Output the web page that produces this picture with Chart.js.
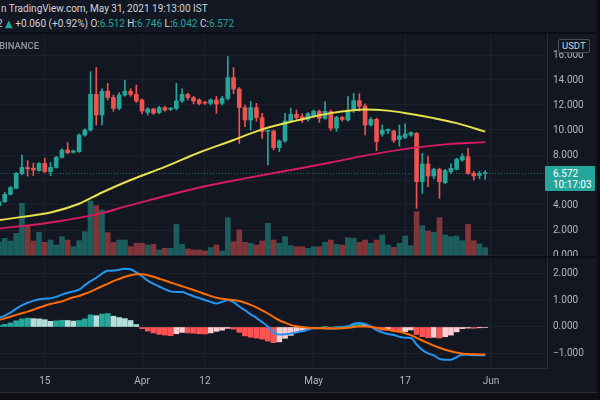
<!DOCTYPE html>
<html>
<head>
<meta charset="utf-8">
<title>Daily chart with MACD</title>
<script src="https://cdn.jsdelivr.net/npm/chart.js@4.4.1/dist/chart.umd.min.js"></script>
<style>
  html, body { margin: 0; padding: 0; }
  body {
    width: 600px; height: 400px; position: relative; overflow: hidden;
    background: #131722; color: #d1d4dc;
    font-family: Roboto, "Noto Sans", "DejaVu Sans", sans-serif; font-size: 10px;
  }
  .abs { position: absolute; white-space: nowrap; }
  .up { color: #26a69a; }
  canvas { position: absolute; left: 0; }
</style>
</head>
<body>
  <div class="abs" style="left:1px; top:2px; line-height:13px;">n TradingView.com, May 31, 2021 19:13:00 IST</div>
  <div class="abs" id="ohlc" style="left:-3px; top:17px; line-height:13px;"></div>
  <div class="abs" style="left:0; top:32px; width:600px; height:2px; background:#0b0d12;"></div>

  <canvas id="priceChart" width="600" height="222" style="top:34px;"></canvas>
  <div class="abs" style="left:0; top:256px; width:600px; height:2px; background:#0b0d12;"></div>
  <canvas id="macdChart" width="600" height="134" style="top:258px;"></canvas>

  <div class="abs" style="left:0; top:392px; width:600px; height:8px; background:#0c0e13; border-top:1px solid #2a2e39;"></div>
  <div class="abs" style="left:597px; top:0; width:3px; height:400px; background:#0c0e13;"></div>

  <div class="abs" style="left:-1px; top:40px; font-size:9.5px; font-weight:500; color:#9598a1;">BINANCE</div>
  <div class="abs" style="left:558px; top:39px; padding:0 3px; line-height:12px; font-size:9.5px; border:1px solid #4a4e59; border-radius:2px; background:#131722;">USDT</div>
  <div class="abs" id="lastPrice" style="left:545px; width:50px; height:25px; box-sizing:border-box; padding:2px 0 0 8px; line-height:11px; background:#26a69a; color:#fff; border-radius:1px;">
    <div id="lastClose"></div><div>10:17:03</div>
  </div>

<script>
// first candle is Mar 7, days counted from Mar 1
const startDay = 6;

const opens = [
  3.95, 4.27, 4.85, 5.33, 6.51, 7.00, 6.95, 6.75, 7.33, 6.67,
  7.01, 7.81, 8.40, 8.22, 8.27, 9.60, 10.00, 12.85, 11.20, 13.10,
  12.60, 11.73, 12.80, 13.10, 12.85, 12.40, 11.41, 11.68, 11.39, 11.79,
  11.65, 11.73, 12.32, 12.85, 12.59, 12.40, 12.22, 12.13, 12.40, 12.13,
  12.53, 14.19, 13.28, 11.79, 10.80, 11.79, 10.99, 9.90, 9.92, 8.59,
  9.12, 10.72, 11.25, 11.07, 10.85, 11.10, 11.50, 10.93, 11.47, 10.15,
  11.00, 10.80, 11.55, 12.35, 11.92, 10.40, 10.85, 9.68, 9.95, 9.92,
  9.25, 9.41, 9.60, 9.73, 5.87, 7.28, 6.32, 6.85, 5.79, 6.67,
  6.85, 7.60, 7.87, 6.53, 6.37, 6.512
];
const highs = [
  4.40, 5.00, 5.50, 6.60, 8.00, 7.55, 7.35, 7.40, 7.75, 7.40,
  7.90, 8.50, 9.00, 8.40, 9.70, 10.10, 14.67, 15.00, 13.30, 13.73,
  12.80, 13.00, 14.00, 13.30, 13.60, 12.50, 11.80, 11.75, 11.90, 11.90,
  11.80, 13.73, 13.30, 12.95, 12.70, 12.50, 12.30, 12.50, 12.70, 12.70,
  15.87, 15.00, 13.40, 12.00, 12.27, 12.13, 11.33, 10.00, 10.00, 9.20,
  11.33, 11.73, 11.60, 11.30, 11.40, 11.60, 11.60, 12.27, 11.60, 11.10,
  11.10, 12.67, 12.93, 12.90, 12.10, 11.00, 10.95, 10.40, 10.10, 10.00,
  10.40, 10.50, 9.85, 9.80, 8.13, 7.90, 6.95, 6.95, 6.85, 7.30,
  7.75, 8.10, 8.53, 6.70, 6.70, 6.746
];
const lows = [
  3.80, 4.20, 4.80, 5.30, 6.40, 6.30, 6.35, 6.70, 6.60, 6.35,
  6.95, 7.75, 8.10, 8.15, 8.20, 9.50, 9.90, 10.40, 10.40, 12.40,
  11.50, 11.60, 12.70, 12.70, 12.20, 11.30, 11.20, 11.25, 11.30, 11.50,
  11.55, 11.60, 12.20, 12.40, 12.10, 12.00, 12.05, 12.00, 11.33, 12.00,
  12.40, 12.90, 8.93, 10.27, 10.00, 10.70, 9.33, 7.20, 8.40, 8.27,
  9.00, 10.60, 10.80, 10.60, 10.70, 11.00, 10.60, 10.85, 9.95, 9.90,
  10.70, 10.70, 11.40, 11.50, 9.60, 10.30, 8.35, 9.50, 9.70, 9.00,
  8.70, 9.30, 9.50, 3.73, 4.93, 5.47, 6.10, 4.53, 5.70, 6.50,
  6.80, 7.50, 6.45, 6.00, 6.10, 6.042
];
const closes = [
  4.25, 4.85, 5.38, 6.53, 7.01, 6.90, 6.80, 7.33, 6.67, 7.01,
  7.81, 8.40, 8.19, 8.32, 9.60, 10.00, 12.85, 11.20, 13.10, 12.60,
  11.73, 12.80, 13.10, 12.85, 12.32, 11.52, 11.68, 11.33, 11.79, 11.60,
  11.75, 12.32, 12.85, 12.59, 12.32, 12.13, 12.15, 12.40, 12.08, 12.53,
  14.19, 13.28, 11.80, 10.80, 11.79, 10.99, 9.87, 9.95, 8.59, 9.12,
  10.72, 11.25, 10.99, 10.80, 11.30, 11.50, 10.93, 11.50, 10.15, 11.00,
  10.85, 11.55, 12.35, 11.90, 10.40, 10.85, 9.07, 10.00, 10.05, 9.17,
  9.52, 9.68, 9.79, 5.87, 7.28, 6.32, 6.85, 5.87, 6.75, 6.93,
  7.65, 7.87, 6.53, 6.32, 6.512, 6.572
];
// relative volume
const volumes = [
  13, 16.7, 14, 21.7, 51.7, 29.3, 14, 22.7, 12.7, 15,
  10, 18.3, 15, 8.3, 14.3, 23.3, 54, 49.3, 45, 22.3,
  12.7, 15, 15, 8.3, 11.7, 11.7, 10, 10.7, 5, 6.7,
  6.7, 30.7, 10.7, 6, 5, 5, 4, 7.3, 10, 4,
  37.3, 13.3, 25, 12.7, 11.7, 10, 14, 31.7, 15, 11.7,
  18.3, 9.3, 8.3, 8.3, 6.7, 8.3, 8.3, 12.7, 15, 10.7,
  10, 17.3, 16.7, 12.7, 15, 11.7, 15, 20, 10, 7.7,
  11.7, 19, 9.3, 43.3, 29.3, 24, 22.7, 37.3, 20, 18.3,
  19, 14.3, 30.7, 14.3, 11, 7.3
];

// moving averages (day from Mar 1, value)
const fastMaDays = [6, 10, 15, 20, 24, 29, 35, 41, 47, 52, 58, 64, 70, 74, 78, 82, 86, 91];
const fastMaValues = [2.78, 3.05, 3.4, 4.1, 5.0, 6.0, 7.05, 8.2, 9.2, 10.05, 10.75, 11.35, 11.65, 11.55, 11.28, 10.95, 10.55, 9.87];
const slowMaDays = [6, 15, 24, 28, 32, 41, 49, 58, 64, 70, 78, 84, 91];
const slowMaValues = [2.12, 2.6, 3.35, 3.87, 4.35, 5.4, 6.13, 6.88, 7.4, 7.95, 8.55, 8.85, 9.03];

const macdLine = [
  0.34, 0.42, 0.53, 0.68, 0.80, 0.90, 0.97, 1.03, 1.05, 1.06,
  1.12, 1.20, 1.27, 1.32, 1.38, 1.55, 1.70, 1.82, 1.98, 2.08,
  2.09, 2.12, 2.16, 2.14, 2.02, 1.88, 1.72, 1.60, 1.50, 1.40,
  1.32, 1.30, 1.30, 1.22, 1.14, 1.07, 1.00, 0.93, 0.87, 0.93,
  1.00, 0.92, 0.76, 0.62, 0.47, 0.34, 0.18, 0.02, -0.20, -0.28,
  -0.27, -0.24, -0.20, -0.16, -0.10, -0.05, -0.04, -0.05, -0.06, -0.05,
  -0.02, 0.02, 0.12, 0.15, 0.11, 0.02, -0.12, -0.20, -0.26, -0.30,
  -0.36, -0.40, -0.41, -0.65, -0.85, -0.98, -1.05, -1.18, -1.21, -1.21,
  -1.12, -1.03, -1.03, -1.05, -1.05, -1.05
];
const signalLine = [
  0.26, 0.32, 0.38, 0.45, 0.51, 0.57, 0.64, 0.72, 0.79, 0.85,
  0.90, 0.95, 1.03, 1.10, 1.15, 1.23, 1.31, 1.41, 1.51, 1.60,
  1.70, 1.78, 1.86, 1.92, 1.95, 1.95, 1.92, 1.86, 1.79, 1.72,
  1.65, 1.58, 1.51, 1.44, 1.37, 1.30, 1.22, 1.15, 1.08, 1.05,
  1.02, 1.00, 0.96, 0.90, 0.82, 0.73, 0.62, 0.50, 0.37, 0.25,
  0.16, 0.08, 0.03, 0.00, -0.03, -0.04, -0.05, -0.05, -0.06, -0.06,
  -0.05, -0.03, 0.00, 0.02, 0.02, 0.00, -0.03, -0.07, -0.10, -0.14,
  -0.18, -0.23, -0.30, -0.40, -0.50, -0.60, -0.69, -0.77, -0.84, -0.90,
  -0.95, -0.99, -1.00, -1.01, -1.02, -1.02
];
const histogram = [
  0.06, 0.10, 0.15, 0.23, 0.30, 0.33, 0.31, 0.30, 0.27, 0.21,
  0.23, 0.25, 0.24, 0.22, 0.24, 0.30, 0.45, 0.42, 0.48, 0.50,
  0.40, 0.35, 0.31, 0.24, 0.09, -0.06, -0.15, -0.22, -0.27, -0.30,
  -0.32, -0.25, -0.20, -0.22, -0.23, -0.25, -0.26, -0.22, -0.16, -0.12,
  -0.05, -0.08, -0.20, -0.33, -0.38, -0.41, -0.45, -0.52, -0.58, -0.55,
  -0.42, -0.31, -0.20, -0.14, -0.08, -0.04, -0.02, 0.01, -0.01, 0.01,
  0.03, 0.05, 0.10, 0.12, 0.09, 0.02, -0.08, -0.12, -0.11, -0.16,
  -0.18, -0.17, -0.11, -0.28, -0.36, -0.40, -0.38, -0.41, -0.36, -0.30,
  -0.18, -0.06, -0.04, -0.05, -0.03, -0.02
];

const timeTickDays = [14, 31, 42, 61, 77, 92];
const timeTickLabels = ['15', 'Apr', '12', 'May', '17', 'Jun'];
const priceTicks = [0, 2, 4, 6, 8, 10, 12, 14, 16];
const macdTicks = [-1, 0, 1, 2];

const UP = '#26a69a';
const DOWN = '#ef5350';
const GRID = '#1d212c';
const AXIS_LINE = '#2a2e39';
const TEXT = '#b2b5be';
const FONT = { family: 'Roboto', size: 10 };

Chart.defaults.font.family = 'Roboto';

const dayOf = i => startDay + i;
const isUp = i => closes[i] >= opens[i];

function timeAxis(showLabels) {
  return {
    type: 'linear', min: 6.17, max: 101.8, offset: false,
    grid: { color: GRID, drawTicks: false, offset: false },
    border: { display: showLabels, color: AXIS_LINE },
    ticks: {
      display: showLabels, color: TEXT, font: FONT, padding: 7, maxRotation: 0,
      callback: (v, i) => timeTickLabels[i]
    },
    afterBuildTicks: s => { s.ticks = timeTickDays.map(v => ({ value: v })); },
    afterFit: s => { s.height = showLabels ? 24 : 0; s.paddingLeft = 0; s.paddingRight = 0; }
  };
}

function valueAxis(min, max, ticks, format) {
  return {
    position: 'right', min: min, max: max,
    grid: { color: GRID, drawTicks: false },
    border: { color: AXIS_LINE },
    ticks: { color: TEXT, font: FONT, padding: 6, callback: format },
    afterBuildTicks: s => { s.ticks = ticks.map(v => ({ value: v })); },
    afterFit: s => { s.width = 53; s.paddingTop = 0; s.paddingBottom = 0; }
  };
}

const priceLine = {
  id: 'priceLine',
  beforeDatasetsDraw(chart) {
    const { ctx, chartArea, scales } = chart;
    const y = Math.round(scales.y.getPixelForValue(closes[closes.length - 1])) + 0.5;
    ctx.save();
    ctx.strokeStyle = 'rgba(38,166,154,0.6)';
    ctx.lineWidth = 1;
    ctx.setLineDash([1, 2]);
    ctx.beginPath();
    ctx.moveTo(chartArea.left, y);
    ctx.lineTo(chartArea.right, y);
    ctx.stroke();
    ctx.restore();
  }
};

const baseOptions = {
  responsive: false,
  animation: false,
  events: [],
  layout: { padding: 0 },
  plugins: { legend: { display: false }, tooltip: { enabled: false } }
};

const priceChart = new Chart(document.getElementById('priceChart').getContext('2d'), {
  type: 'bar',
  data: {
    datasets: [
      {
        type: 'line', order: 0,
        data: fastMaDays.map((d, i) => ({ x: d, y: fastMaValues[i] })),
        borderColor: '#e8e24a', borderWidth: 2, pointRadius: 0, cubicInterpolationMode: 'monotone'
      },
      {
        type: 'line', order: 0,
        data: slowMaDays.map((d, i) => ({ x: d, y: slowMaValues[i] })),
        borderColor: '#d81b60', borderWidth: 2, pointRadius: 0, cubicInterpolationMode: 'monotone'
      },
      {
        order: 1, grouped: false, barThickness: 4, minBarLength: 1,
        data: opens.map((o, i) => ({ x: dayOf(i), y: [o, closes[i]] })),
        backgroundColor: ctx => isUp(ctx.dataIndex) ? UP : DOWN
      },
      {
        order: 2, grouped: false, barThickness: 1,
        data: lows.map((l, i) => ({ x: dayOf(i), y: [l, highs[i]] })),
        backgroundColor: ctx => isUp(ctx.dataIndex) ? UP : DOWN
      },
      {
        order: 3, grouped: false, barThickness: 5, yAxisID: 'vol',
        data: volumes.map((v, i) => ({ x: dayOf(i), y: v })),
        backgroundColor: ctx => isUp(ctx.dataIndex) ? 'rgba(38,166,154,0.5)' : 'rgba(239,83,80,0.5)'
      }
    ]
  },
  options: {
    ...baseOptions,
    scales: {
      x: timeAxis(false),
      y: valueAxis(-0.08, 17.68, priceTicks, v => v.toFixed(3)),
      vol: { display: false, min: -1, max: 221 }
    }
  },
  plugins: [priceLine]
});

function histColor(ctx) {
  const i = ctx.dataIndex;
  const v = histogram[i];
  const prev = i > 0 ? histogram[i - 1] : 0;
  if (v >= 0) return v > prev ? '#26a69a' : '#b2dfdb';
  return v < prev ? '#ff5252' : '#ffcdd2';
}

new Chart(document.getElementById('macdChart').getContext('2d'), {
  type: 'bar',
  data: {
    datasets: [
      {
        type: 'line', order: 0,
        data: signalLine.map((v, i) => ({ x: dayOf(i), y: v })),
        borderColor: '#ff6d00', borderWidth: 2, pointRadius: 0, cubicInterpolationMode: 'monotone'
      },
      {
        type: 'line', order: 1,
        data: macdLine.map((v, i) => ({ x: dayOf(i), y: v })),
        borderColor: '#2196f3', borderWidth: 2, pointRadius: 0, cubicInterpolationMode: 'monotone'
      },
      {
        order: 2, grouped: false, barThickness: 5,
        data: histogram.map((v, i) => ({ x: dayOf(i), y: v })),
        backgroundColor: histColor
      }
    ]
  },
  options: {
    ...baseOptions,
    scales: {
      x: timeAxis(true),
      y: valueAxis(-1.519, 2.556, macdTicks, v => (v < 0 ? '\u2212' : '') + Math.abs(v).toFixed(3))
    }
  }
});

// legend line and last price tag
const last = closes.length - 1;
const change = closes[last] - closes[last - 1];
const pct = change / closes[last - 1] * 100;
const sign = change >= 0 ? '+' : '\u2212';
document.getElementById('ohlc').innerHTML =
  `2 <span class="up">\u25B2</span> ${sign}${Math.abs(change).toFixed(3)} (${sign}${Math.abs(pct).toFixed(2)}%) ` +
  `O:<span class="up">${opens[last].toFixed(3)}</span> H:<span class="up">${highs[last].toFixed(3)}</span> ` +
  `L:<span class="up">${lows[last].toFixed(3)}</span> C:<span class="up">${closes[last].toFixed(3)}</span>`;

document.getElementById('lastClose').innerText = closes[last].toFixed(3);
const tagY = 34 + priceChart.scales.y.getPixelForValue(closes[last]);
document.getElementById('lastPrice').style.top = Math.round(tagY - 7) + 'px';
</script>
</body>
</html>
